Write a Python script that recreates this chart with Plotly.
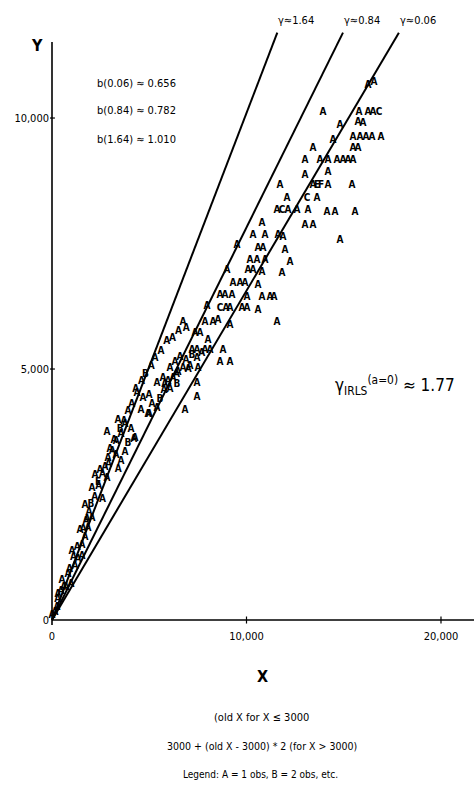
import plotly.graph_objects as go

# Slopes of the three fitted lines through the origin, keyed by gamma
GAMMAS = ["0.06", "0.84", "1.64"]
SLOPES = [0.656, 0.782, 1.010]
LINE_TOP = 11700

# Observations (transformed X, Y) with the letter that marks each one
OBS_X = [16246, 16554, 13932, 15783, 16246, 16503, 16811, 15731, 15989, 15474,
         15834, 16143, 16451, 16914, 15474, 15731, 13418, 14806, 14446, 13007,
         13778, 14189, 14652, 14960, 15217, 15474, 13007, 14189, 11721, 13418,
         13624, 13829, 14189, 15423, 12081, 13110, 13624, 11567, 11824, 12133,
         12595, 13161, 14138, 14549, 15577, 10796, 13007, 13418, 10333, 10950,
         11619, 11876, 14806, 9511, 10590, 10848, 11979, 10179, 10539, 10950,
         12236, 8997, 10076, 10333, 10796, 11824, 9305, 9665, 9922, 10590,
         8637, 8894, 9254, 10025, 10796, 11207, 11413, 7969, 8637, 8945,
         9151, 9768, 10025, 10590, 6735, 7866, 8277, 8534, 9151, 11567,
         7352, 7609, 8020, 7197, 7454, 7866, 8123, 8791, 8637, 9151,
         6323, 6580, 6889, 7197, 7454, 6735, 7095, 7506, 6478, 6066,
         7454, 7454, 6838, 5398, 5707, 5964, 6221, 6426, 5758, 6066,
         4370, 4678, 4987, 5141, 5398, 5552, 4575, 4935, 3393, 3753,
         4061, 3547, 4267, 3907, 3187, 2828, 2982, 3290, 3547, 2879,
         3753, 2211, 2468, 2725, 2365, 2828, 2056, 1697, 1902, 2056,
         1748, 1439, 1697, 1851, 1542, 1028, 1337, 1182, 1542, 514,
         823, 720, 977, 154, 308, 257, 463, 0,
         300, 600, 900, 1100, 1300, 1600, 1800, 2000, 2200, 2400,
         2600, 2900, 3100, 3300, 3500, 3700, 3900, 4100, 4300, 4600,
         4800, 5100, 5300, 5600, 5900, 6200, 6500, 6900, 2600, 3400,
         4200, 5000, 5800, 6400, 7000, 7700]
OBS_Y = [10657, 10717, 10119, 10119, 10119, 10119, 10119, 9920, 9900, 9621,
         9621, 9621, 9621, 9621, 9402, 9402, 9402, 9860, 9562, 9163,
         9163, 9163, 9163, 9163, 9163, 9163, 8864, 8924, 8665, 8665,
         8665, 8665, 8665, 8665, 8406, 8406, 8406, 8167, 8167, 8167,
         8167, 8167, 8127, 8127, 8127, 7908, 7868, 7868, 7669, 7669,
         7669, 7629, 7570, 7470, 7410, 7410, 7370, 7171, 7171, 7171,
         7131, 6972, 6972, 6972, 6932, 6912, 6713, 6713, 6713, 6673,
         6474, 6474, 6474, 6434, 6434, 6434, 6434, 6255, 6215, 6215,
         6215, 6215, 6215, 6175, 5936, 5936, 5936, 5976, 5876, 5936,
         5717, 5717, 5578, 5378, 5378, 5378, 5378, 5378, 5139, 5139,
         5139, 5239, 5179, 5279, 5219, 5020, 5060, 5020, 4940, 5020,
         4721, 4442, 4183, 4721, 4821, 4761, 4821, 4701, 4582, 4602,
         4522, 4422, 4482, 4303, 4223, 4402, 4183, 4104, 3984, 3904,
         3805, 3705, 3625, 3526, 3586, 3745, 3406, 3287, 3167, 3227,
         3347, 2888, 2988, 3048, 2749, 2829, 2629, 2291, 2151, 2032,
         1972, 1793, 1653, 1833, 1494, 1374, 1215, 1076, 1275, 797,
         916, 657, 717, 154, 518, 259, 578, 100,
         400, 650, 1000, 1250, 1450, 1800, 2000, 2300, 2450, 2650,
         2900, 3100, 3350, 3550, 3800, 3950, 4150, 4300, 4600, 4750,
         4900, 5050, 5200, 5350, 5550, 5600, 5750, 5800, 2400, 3000,
         3600, 4100, 4700, 4900, 5000, 5300]
OBS_LETTER = ["A"] * len(OBS_X)
for i, ch in [(6, "C"), (30, "E"), (31, "F"), (35, "C"), (38, "C"), (78, "C"),
              (103, "B"), (117, "B"), (125, "B"), (133, "B"), (144, "E"),
              (175, "B"), (182, "B"), (188, "B")]:
    OBS_LETTER[i] = ch

X_TICKS = [0, 10000, 20000]
X_TICK_TEXT = ["0", "10,000", "20,000"]
Y_TICKS = [0, 5000, 10000]
Y_TICK_TEXT = ["0", "5,000", "10,000"]

FONT = "DejaVu Sans Condensed, Liberation Sans Narrow, Roboto Condensed, sans-serif"

fig = go.Figure()

for g, b in zip(GAMMAS, SLOPES):
    fig.add_trace(go.Scatter(
        x=[0, LINE_TOP / b], y=[0, LINE_TOP], mode="lines",
        line=dict(color="black", width=2), hoverinfo="skip"))
    fig.add_annotation(x=LINE_TOP / b, y=LINE_TOP, text=f"γ≈{g}",
                       xanchor="left", yanchor="bottom", showarrow=False,
                       xshift=-1, yshift=4, font=dict(size=11, color="black"))

fig.add_trace(go.Scatter(
    x=OBS_X, y=OBS_Y, mode="text", text=OBS_LETTER,
    textposition="middle center", cliponaxis=False,
    textfont=dict(size=10, color="black", family=FONT, weight="bold"),
    hoverinfo="skip"))

# axis lines and tick marks
fig.add_shape(type="line", x0=0, x1=0, y0=-100, y1=11514,
              line=dict(color="black", width=1.6))
fig.add_shape(type="line", x0=0, x1=21697, y0=0, y1=0,
              line=dict(color="black", width=1.6))
for t in X_TICKS[1:]:
    fig.add_shape(type="line", x0=t, x1=t, y0=-70, y1=70,
                  line=dict(color="black", width=1.2))
for t in Y_TICKS[1:]:
    fig.add_shape(type="line", x0=-150, x1=150, y0=t, y1=t,
                  line=dict(color="black", width=1.2))

b_lines = [f"b({g}) ≈ {b:.3f}" for g, b in zip(GAMMAS, SLOPES)]
for txt, yv in zip(b_lines, [10680, 10140, 9580]):
    fig.add_annotation(x=2211, y=yv, text=txt, xanchor="left", yanchor="middle",
                       showarrow=False, font=dict(size=11, color="black"))

fig.add_annotation(x=17634, y=4681,
                   text="γ<sub>IRLS</sub><sup>(a=0)</sup> ≈ 1.77",
                   xanchor="center", yanchor="middle",
                   showarrow=False, font=dict(size=17, color="black"))

def paper_text(x, y, text, size):
    fig.add_annotation(xref="paper", yref="paper", x=x, y=y, text=text,
                       xanchor="center", yanchor="middle", showarrow=False,
                       font=dict(size=size, color="black"))

paper_text(-0.031, 0.927, "<b>Y</b>", 16)
paper_text(0.502, -0.078, "<b>X</b>", 16)
paper_text(0.499, -0.143, "(old X for X ≤ 3000", 11)
paper_text(0.499, -0.188, "3000 + (old X - 3000) * 2 (for X > 3000)", 10.5)
paper_text(0.497, -0.234, "Legend: A = 1 obs, B = 2 obs, etc.", 10)

fig.update_layout(
    width=474, height=791,
    margin=dict(l=50, r=0, t=0, b=163),
    paper_bgcolor="white", plot_bgcolor="white",
    showlegend=False,
    font=dict(family=FONT, size=12, color="black"),
    xaxis=dict(range=[-103, 21697], showgrid=False, zeroline=False,
               showline=False, ticks="", tickvals=X_TICKS,
               ticktext=X_TICK_TEXT, tickfont=dict(size=11)),
    yaxis=dict(range=[-159, 12351], showgrid=False, zeroline=False,
               showline=False, ticks="", tickvals=Y_TICKS,
               ticktext=Y_TICK_TEXT, tickfont=dict(size=11)),
)

fig.write_html("out.html")
